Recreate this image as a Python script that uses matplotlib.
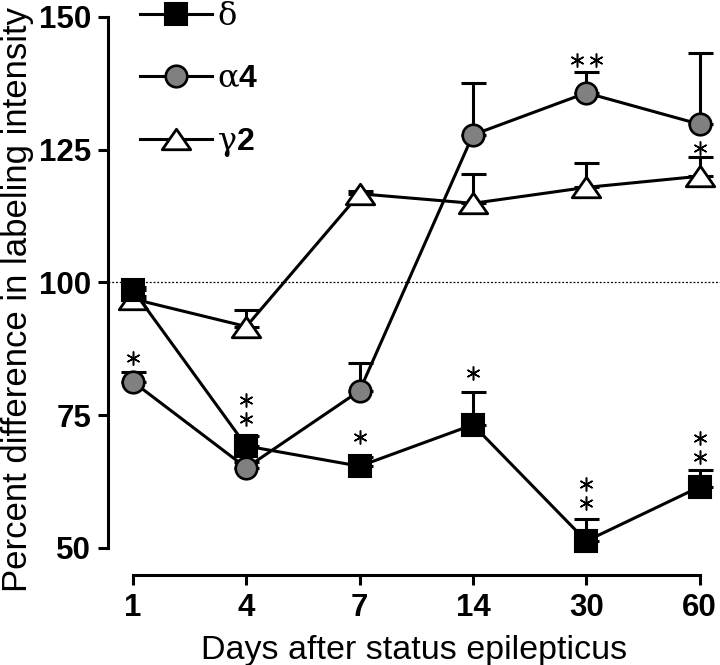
import matplotlib
matplotlib.use('Agg')
import matplotlib.pyplot as plt
from matplotlib.path import Path
from matplotlib.transforms import offset_copy
import numpy as np

# ---------------- data ----------------
days = ['1', '4', '7', '14', '30', '60']
delta_vals = [98.6, 69.2, 65.4, 73.2, 51.3, 61.5]
delta_err = [0.5, 1.8, 1.8, 6.2, 4.2, 3.2]
alpha4_vals = [81.3, 65.1, 79.6, 127.8, 135.7, 129.8]
alpha4_err = [1.8, 1.0, 5.2, 9.8, 3.9, 13.4]
gamma2_vals = [96.9, 91.7, 116.7, 114.9, 117.9, 120.0]
gamma2_err = [0.5, 3.1, 0.5, 5.5, 4.6, 3.6]
series_labels = [r'$\mathrm{δ}$', r'$\mathrm{α}\mathbf{4}$', r'$\mathrm{γ}\mathbf{2}$']
yticks = [50, 75, 100, 125, 150]
baseline = 100
xlabel = 'Days after status epilepticus'
ylabel = 'Percent difference in labeling intensity'

# significance marks: series index (0 δ, 1 α4, 2 γ2), day index, number of stars, layout
sig_series = [1, 0, 0, 0, 0, 0, 1, 2]
sig_day = [0, 1, 2, 3, 4, 5, 4, 5]
sig_count = [1, 2, 1, 1, 2, 2, 2, 1]
sig_layout = ['stack', 'stack', 'stack', 'stack', 'stack', 'stack', 'row', 'stack']
sig_gap_px = [14, 17, 20, 19, 16, 13, 12, 9]

# ---------------- style ----------------
plt.rcParams['font.family'] = ['Liberation Sans', 'DejaVu Sans']
plt.rcParams['mathtext.fontset'] = 'custom'
plt.rcParams['mathtext.rm'] = 'DejaVu Serif'
plt.rcParams['mathtext.it'] = 'DejaVu Serif:italic'
plt.rcParams['mathtext.bf'] = 'Liberation Sans:bold'

fig = plt.figure(figsize=(7.2, 6.65), dpi=100)
ax = fig.add_axes([0.15, 0.176, 0.85, 0.7985])
x = np.arange(len(days))

tri = Path([(-1, -0.72), (1, -0.72), (0, 0.72), (-1, -0.72)],
           [Path.MOVETO, Path.LINETO, Path.LINETO, Path.CLOSEPOLY])

vals_list = [delta_vals, alpha4_vals, gamma2_vals]
err_list = [delta_err, alpha4_err, gamma2_err]
markers = ['s', 'o', tri]
msizes = [16.5, 15.5, 20.5]
mews = [1.5, 1.9, 2.0]
faces = ['black', '#808080', 'white']
zords = [4, 6, 2]
lw = 2.2

handles = []
for vals, err, mk, ms, mew, fc, z, lab in zip(vals_list, err_list, markers, msizes,
                                              mews, faces, zords, series_labels):
    ax.errorbar(x, vals, yerr=[np.zeros(len(err)), err], fmt='none', ecolor='black',
                elinewidth=lw, capsize=9, capthick=lw, zorder=z - 0.5, clip_on=False)
    h, = ax.plot(x, vals, color='black', lw=lw, marker=mk, markersize=ms,
                 markerfacecolor=fc, markeredgecolor='black', markeredgewidth=mew,
                 zorder=z, clip_on=False, label=lab, solid_joinstyle='miter')
    handles.append(h)

# significance asterisks
px = 0.72  # points per pixel at 100 dpi
for s, d, n, lay, gap in zip(sig_series, sig_day, sig_count, sig_layout, sig_gap_px):
    top = vals_list[s][d] + err_list[s][d]
    for k in range(n):
        if lay == 'stack':
            dx, dy = 0, (gap + 19 * k) * px
        else:
            dx, dy = (k - (n - 1) / 2) * 19 * px, gap * px
        tr = offset_copy(ax.transData, fig=fig, x=dx, y=dy, units='points')
        ax.plot([x[d]], [top], transform=tr, marker=(6, 2, 0), markersize=10,
                markeredgewidth=1.1, color='black', linestyle='none',
                zorder=8, clip_on=False)

ax.axhline(baseline, color='black', lw=0.9, linestyle=(0, (1.5, 1.5)), zorder=1)

ax.set_ylim(50, 150)
ax.set_xlim(-0.22, 5.18)
ax.set_yticks(yticks)
ax.set_xticks(x)
ax.set_xticklabels(days)
for sp in ['top', 'right']:
    ax.spines[sp].set_visible(False)
ax.spines['left'].set_linewidth(lw)
ax.spines['bottom'].set_linewidth(lw)
ax.spines['bottom'].set_position(('outward', 19.4))
ax.spines['bottom'].set_bounds(0, 5)
ax.tick_params(axis='both', width=lw, length=7, labelsize=22.5, color='black')
ax.tick_params(axis='y', pad=5)
ax.tick_params(axis='x', pad=6)
for t in ax.get_xticklabels() + ax.get_yticklabels():
    t.set_fontweight('bold')

ax.set_xlabel(xlabel, fontsize=24.5, labelpad=9)
ax.set_ylabel(ylabel, fontsize=25)
ax.yaxis.set_label_coords(-0.121, 0.467)

leg = fig.legend(handles=handles, labels=series_labels, loc='upper left',
                 bbox_to_anchor=(140 / 720, 1 - 2 / 665), frameon=False,
                 fontsize=23, numpoints=1, handlelength=2.26, handletextpad=0.15,
                 labelspacing=1.0, borderpad=0, borderaxespad=0)

fig.savefig('out.png', dpi=100)
